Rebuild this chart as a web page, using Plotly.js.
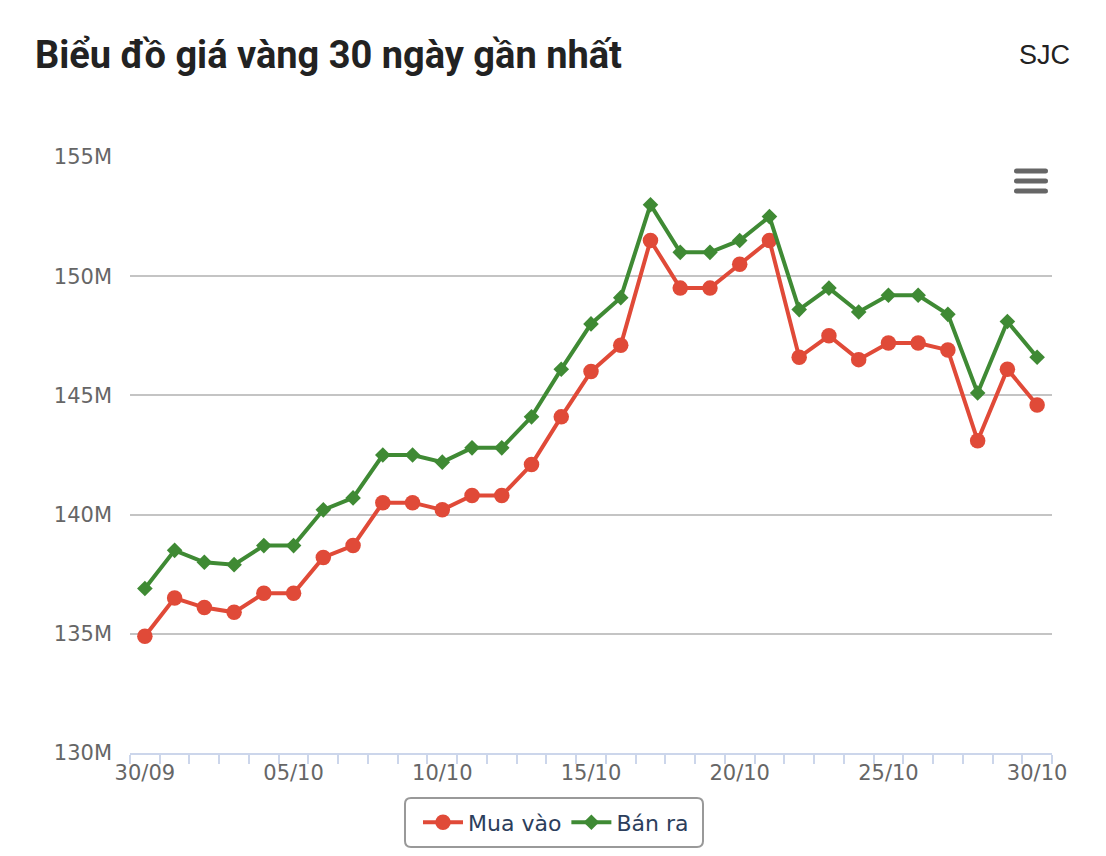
<!DOCTYPE html>
<html>
<head>
<meta charset="utf-8">
<script src="https://cdn.plot.ly/plotly-3.0.1.min.js"></script>
<style>
  html, body {margin: 0; padding: 0; background: #fff;}
  #chart {width: 1106px; height: 856px;}
</style>
</head>
<body>
<div id="chart"></div>
<script>
// Dates shown on the x axis (one per day)
const days = ['30/09', '01/10', '02/10', '03/10', '04/10', '05/10', '06/10', '07/10', '08/10', '09/10',
    '10/10', '11/10', '12/10', '13/10', '14/10', '15/10', '16/10', '17/10', '18/10', '19/10',
    '20/10', '21/10', '22/10', '23/10', '24/10', '25/10', '26/10', '27/10', '28/10', '29/10', '30/10'];

// Prices in millions VND
const buy_prices = [134.9, 136.5, 136.1, 135.9, 136.7, 136.7, 138.2, 138.7, 140.5, 140.5,
    140.2, 140.8, 140.8, 142.1, 144.1, 146.0, 147.1, 151.5, 149.5, 149.5,
    150.5, 151.5, 146.6, 147.5, 146.5, 147.2, 147.2, 146.9, 143.1, 146.1, 144.6];
const sell_prices = [136.9, 138.5, 138.0, 137.9, 138.7, 138.7, 140.2, 140.7, 142.5, 142.5,
    142.2, 142.8, 142.8, 144.1, 146.1, 148.0, 149.1, 153.0, 151.0, 151.0,
    151.5, 152.5, 148.6, 149.5, 148.5, 149.2, 149.2, 148.4, 145.1, 148.1, 146.6];

const series_names = ['Mua vào', 'Bán ra'];
const y_ticks = [130, 135, 140, 145, 150, 155];
const y_tick_labels = ['130M', '135M', '140M', '145M', '150M', '155M'];

const label_font = {family: 'DejaVu Sans', size: 21, color: '#666666'};

// Only every 5th day gets a label
function dayLabels(list) {
    return list.map((d, i) => (i % 5 === 0 ? d : ''));
}

// Rounded rectangle path in paper units
function roundRect(x0, x1, yt, yb, rx, ry) {
    return `M${x0 + rx},${yt} L${x1 - rx},${yt} Q${x1},${yt} ${x1},${yt - ry} ` +
        `L${x1},${yb + ry} Q${x1},${yb} ${x1 - rx},${yb} L${x0 + rx},${yb} ` +
        `Q${x0},${yb} ${x0},${yb + ry} L${x0},${yt - ry} Q${x0},${yt} ${x0 + rx},${yt} Z`;
}

// Hamburger menu icon, three rounded bars
function menuBars() {
    return [0.9765, 0.9597, 0.9430].map(y => ({
        type: 'path', xref: 'paper', yref: 'paper',
        path: roundRect(0.9588, 0.9957, y + 0.0042, y - 0.0042, 0.0027, 0.0042),
        line: {width: 0}, fillcolor: '#666666'
    }));
}

// Frame behind the legend
function legendFrame() {
    return {type: 'path', xref: 'paper', yref: 'paper',
        path: roundRect(0.29826, 0.62148, -0.0755, -0.15772, 0.0065, 0.0101),
        line: {color: '#999999', width: 2}, fillcolor: 'rgba(0,0,0,0)'};
}

const traces = [
    {
        x: days, y: buy_prices, name: series_names[0],
        type: 'scatter', mode: 'lines+markers',
        line: {color: '#e04a38', width: 4},
        marker: {symbol: 'circle', size: 15.5, color: '#e04a38'}
    },
    {
        x: days, y: sell_prices, name: series_names[1],
        type: 'scatter', mode: 'lines+markers',
        line: {color: '#3f8a34', width: 4},
        marker: {symbol: 'diamond', size: 12, color: '#3f8a34'}
    }
];

const layout = {
    width: 1106, height: 856,
    margin: {l: 130, r: 54, t: 157, b: 103},
    paper_bgcolor: '#ffffff', plot_bgcolor: '#ffffff',
    title: {
        text: '<b>Biểu đồ giá vàng 30 ngày gần nhất</b>',
        xref: 'container', yref: 'container',
        x: 35 / 1106, xanchor: 'left',
        y: 1 - 55 / 856, yanchor: 'middle',
        font: {family: 'Roboto', size: 38, color: '#222222'}
    },
    xaxis: {
        type: 'category',
        range: [-0.5, 30.5],
        tickmode: 'array', tickvals: days, ticktext: dayLabels(days),
        tickangle: 0,
        tickson: 'boundaries',
        ticks: 'outside', ticklen: 9, tickwidth: 2, tickcolor: '#ccd6eb',
        showline: true, linecolor: '#ccd6eb', linewidth: 2,
        showgrid: false, zeroline: false,
        tickfont: label_font
    },
    yaxis: {
        range: [130, 155],
        tickmode: 'array', tickvals: y_ticks, ticktext: y_tick_labels,
        ticks: '', ticklabelstandoff: 17,
        showgrid: true, gridcolor: '#c4c4c4', gridwidth: 2,
        showline: false, zeroline: false,
        tickfont: label_font
    },
    legend: {
        orientation: 'h',
        xref: 'container', yref: 'container',
        x: 556 / 1106, xanchor: 'center',
        y: 1 - 822.5 / 856, yanchor: 'middle',
        borderwidth: 0, bgcolor: 'rgba(0,0,0,0)',
        itemwidth: 40,
        font: {family: 'DejaVu Sans', size: 22, color: '#2c3e5c'}
    },
    shapes: menuBars().concat([legendFrame()]),
    annotations: [{
        text: 'SJC', xref: 'paper', yref: 'paper',
        x: (1072 - 130) / 922, xanchor: 'right',
        y: (753 - 55) / 596, yanchor: 'middle',
        showarrow: false,
        font: {family: 'Liberation Sans', size: 27, color: '#222222'}
    }],
    hovermode: false
};

Plotly.newPlot('chart', traces, layout, {staticPlot: true, displayModeBar: false});
</script>
</body>
</html>
